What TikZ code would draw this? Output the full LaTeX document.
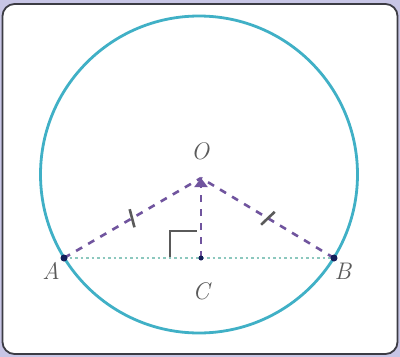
\documentclass[tikz,border=0pt]{standalone}
\usepackage{tikz}
\usetikzlibrary{arrows.meta,decorations.markings}
\definecolor{panelbg}{RGB}{200,198,230}
\definecolor{framecol}{RGB}{60,60,68}
\definecolor{circcol}{RGB}{64,176,198}
\definecolor{radcol}{RGB}{112,84,158}
\definecolor{chordcol}{RGB}{140,200,190}
\definecolor{ptcol}{RGB}{20,30,90}
\definecolor{labcol}{RGB}{90,90,90}
\tikzset{
  ptlabel/.style={font=\fontsize{24}{28}\selectfont\itshape, text=labcol, inner sep=0pt},
  radius line/.style={radcol, line width=2.6pt, dash pattern=on 7pt off 7pt},
  ticked/.style={postaction={decorate}, decoration={markings,
    mark=at position 0.5 with {\draw[labcol, line width=2.6pt, solid] (-3pt,-9pt) -- (2pt,9pt);}}},
  chordline/.style={chordcol, line width=1.8pt, dash pattern=on 2.5pt off 3pt},
  dotpt/.style={circle, fill=ptcol, inner sep=0pt, minimum size=7pt},
}
\begin{document}
\begin{tikzpicture}[x=1pt,y=-1pt]

  % frame
  \fill[panelbg] (0,0) rectangle (400,357);
  \draw[framecol, fill=white, line width=1.8pt, rounded corners=12pt] (2.5,4) rectangle (397.5,354);

  % circle
  \draw[circcol, line width=2.8pt] (199,174.5) circle (158.5);

  % points
  \coordinate (O) at (201,178);
  \coordinate (A) at (64,258);
  \coordinate (B) at (334,258);
  \coordinate (C) at (201,258);

  % chord and radii
  \draw[chordline] (A) -- (B);
  \draw[radius line, ticked] (A) -- (O);
  \draw[radius line, ticked] (B) -- (O);
  \draw[radius line, -{Triangle[length=9pt,width=13pt]}] (C) -- (O);

  % right angle
  \draw[labcol, line width=2.8pt] (170,257) -- (170,231) -- (197,231);

  \node[dotpt] (dA) at (A) {};
  \node[dotpt] (dB) at (B) {};
  \node[dotpt, minimum size=5pt] (dC) at (C) {};

  % labels
  \node[ptlabel] (lO) at (200,151) {O};
  \node[ptlabel] (lA) at (51,271) {A};
  \node[ptlabel] (lB) at (343,271) {B};
  \node[ptlabel] (lC) at (201,291) {C};

\end{tikzpicture}
\end{document}
